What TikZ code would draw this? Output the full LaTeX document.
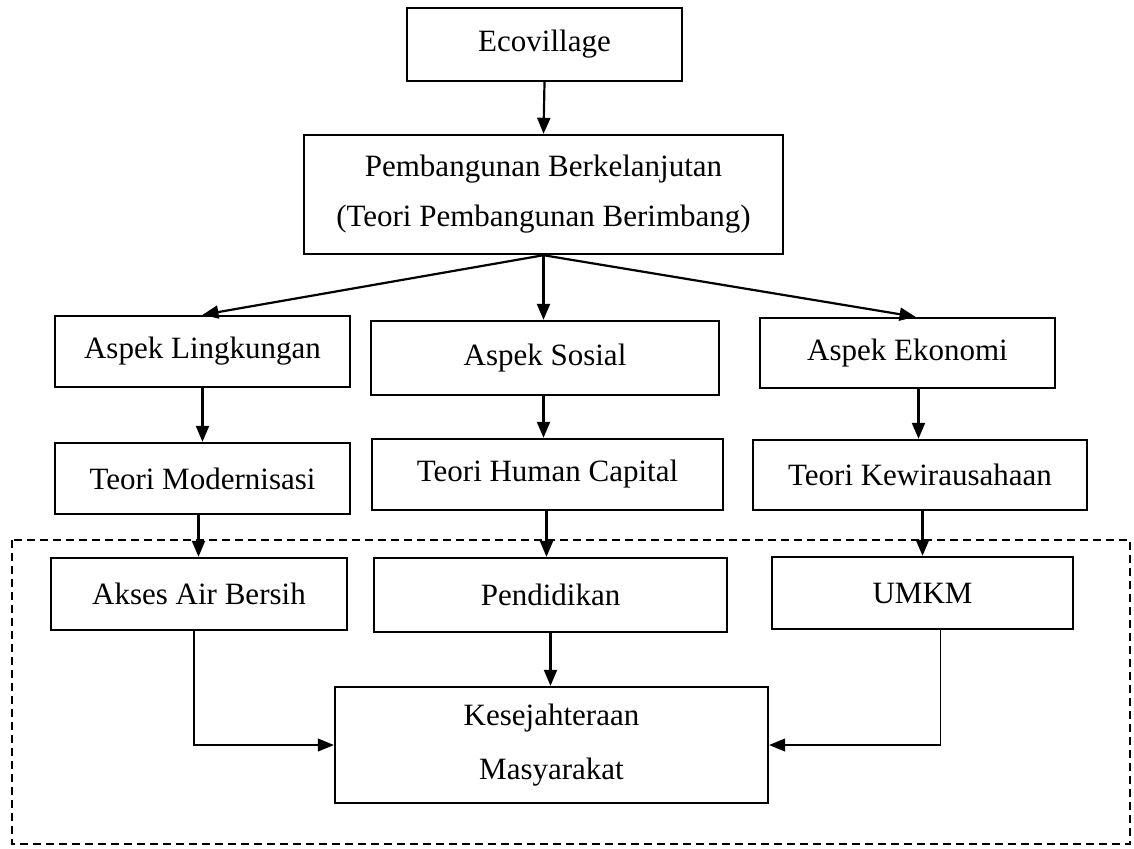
\documentclass[tikz,border=0pt]{standalone}
\usepackage{fontspec}
\setmainfont{Liberation Serif}
\usepackage{tikz}
\usetikzlibrary{
  positioning,
  arrows.meta,
  calc
}

\begin{document}
\begin{tikzpicture}[
  x=0.5pt, y=-0.5pt,
  >={Triangle[length=8pt,width=6.5pt]},
  % --- node styles ---
  box/.style={
    draw, line width=1.2pt, inner sep=0pt,
    align=center, font=\fontsize{15.5}{25}\selectfont
  },
  arr/.style={->, line width=1.1pt},
  thinarr/.style={->, line width=0.6pt},
  groupline/.style={line width=0.8pt, dash pattern=on 4pt off 2.5pt},
]
\useasboundingbox (0,0) rectangle (1134,848);

% Row 1: Ecovillage
\node[box, minimum width=137.5pt, minimum height=36.5pt] (eco) at (544.5,44.5) {Ecovillage};

% Row 2: Pembangunan Berkelanjutan
\node[box, minimum width=239.5pt, minimum height=59.5pt] (pemb) at (543.5,194.5)
  {Pembangunan Berkelanjutan\\(Teori Pembangunan Berimbang)};

% Row 3: aspek
\node[box, minimum width=147.5pt, minimum height=35.5pt] (lingk) at (202.5,351.5) {Aspek Lingkungan};
\node[box, minimum width=174pt, minimum height=37pt] (sosial) at (545,358) {Aspek Sosial};
\node[box, minimum width=147.5pt, minimum height=35pt] (ekon) at (907.5,353) {Aspek Ekonomi};

% Row 4: teori
\node[box, minimum width=147.5pt, minimum height=35.5pt] (modern) at (202.5,478.5) {Teori Modernisasi};
\node[box, minimum width=175.5pt, minimum height=35.5pt] (human) at (547.5,474.5) {Teori Human Capital};
\node[box, minimum width=167pt, minimum height=35pt] (kewira) at (920,475) {Teori Kewirausahaan};

% Row 5: indikator (dalam kotak putus-putus)
\draw[groupline] (12,540) rectangle (1130,844);
\node[box, minimum width=148pt, minimum height=36pt] (akses) at (199,594) {Akses Air Bersih};
\node[box, minimum width=176.5pt, minimum height=37pt] (pend) at (550.5,595) {Pendidikan};
\node[box, minimum width=150.5pt, minimum height=36pt] (umkm) at (922.5,593) {UMKM};

% Row 6: Kesejahteraan
\node[box, minimum width=216.5pt, minimum height=58pt] (kes) at (551.5,745)
  {Kesejahteraan\\[2pt]Masyarakat};

% ─── Arrows ──────────────────────────────────────────────────────────────
\draw[arr] (eco.south) -- (pemb.north);
\draw[arr] (pemb.south) -- (lingk.north);
\draw[arr] (pemb.south) -- (pemb.south |- sosial.north);
\draw[arr] (pemb.south) -- ([xshift=4pt]ekon.north);

\draw[arr] (lingk.south) -- (modern.north);
\draw[arr] (sosial.south -| pemb.south) -- (pemb.south |- human.north);
\draw[arr] ([xshift=5.5pt]ekon.south) -- ([xshift=5.5pt]ekon.south |- kewira.north);

\draw[arr] ([xshift=-2pt]modern.south) -- ([xshift=-2pt]modern.south |- akses.north);
\draw[arr] ([xshift=-0.5pt]human.south) -- ([xshift=-0.5pt]human.south |- pend.north);
\draw[arr] (kewira.south -| umkm.north) -- (umkm.north);

\draw[arr] (pend.south) -- (pend.south |- kes.north);

% Indikator ke kesejahteraan
\draw[thinarr] ([xshift=-2.5pt]akses.south) |- (kes.west);
\draw[thinarr] ([xshift=9pt]umkm.south) |- (kes.east);

\end{tikzpicture}
\end{document}
